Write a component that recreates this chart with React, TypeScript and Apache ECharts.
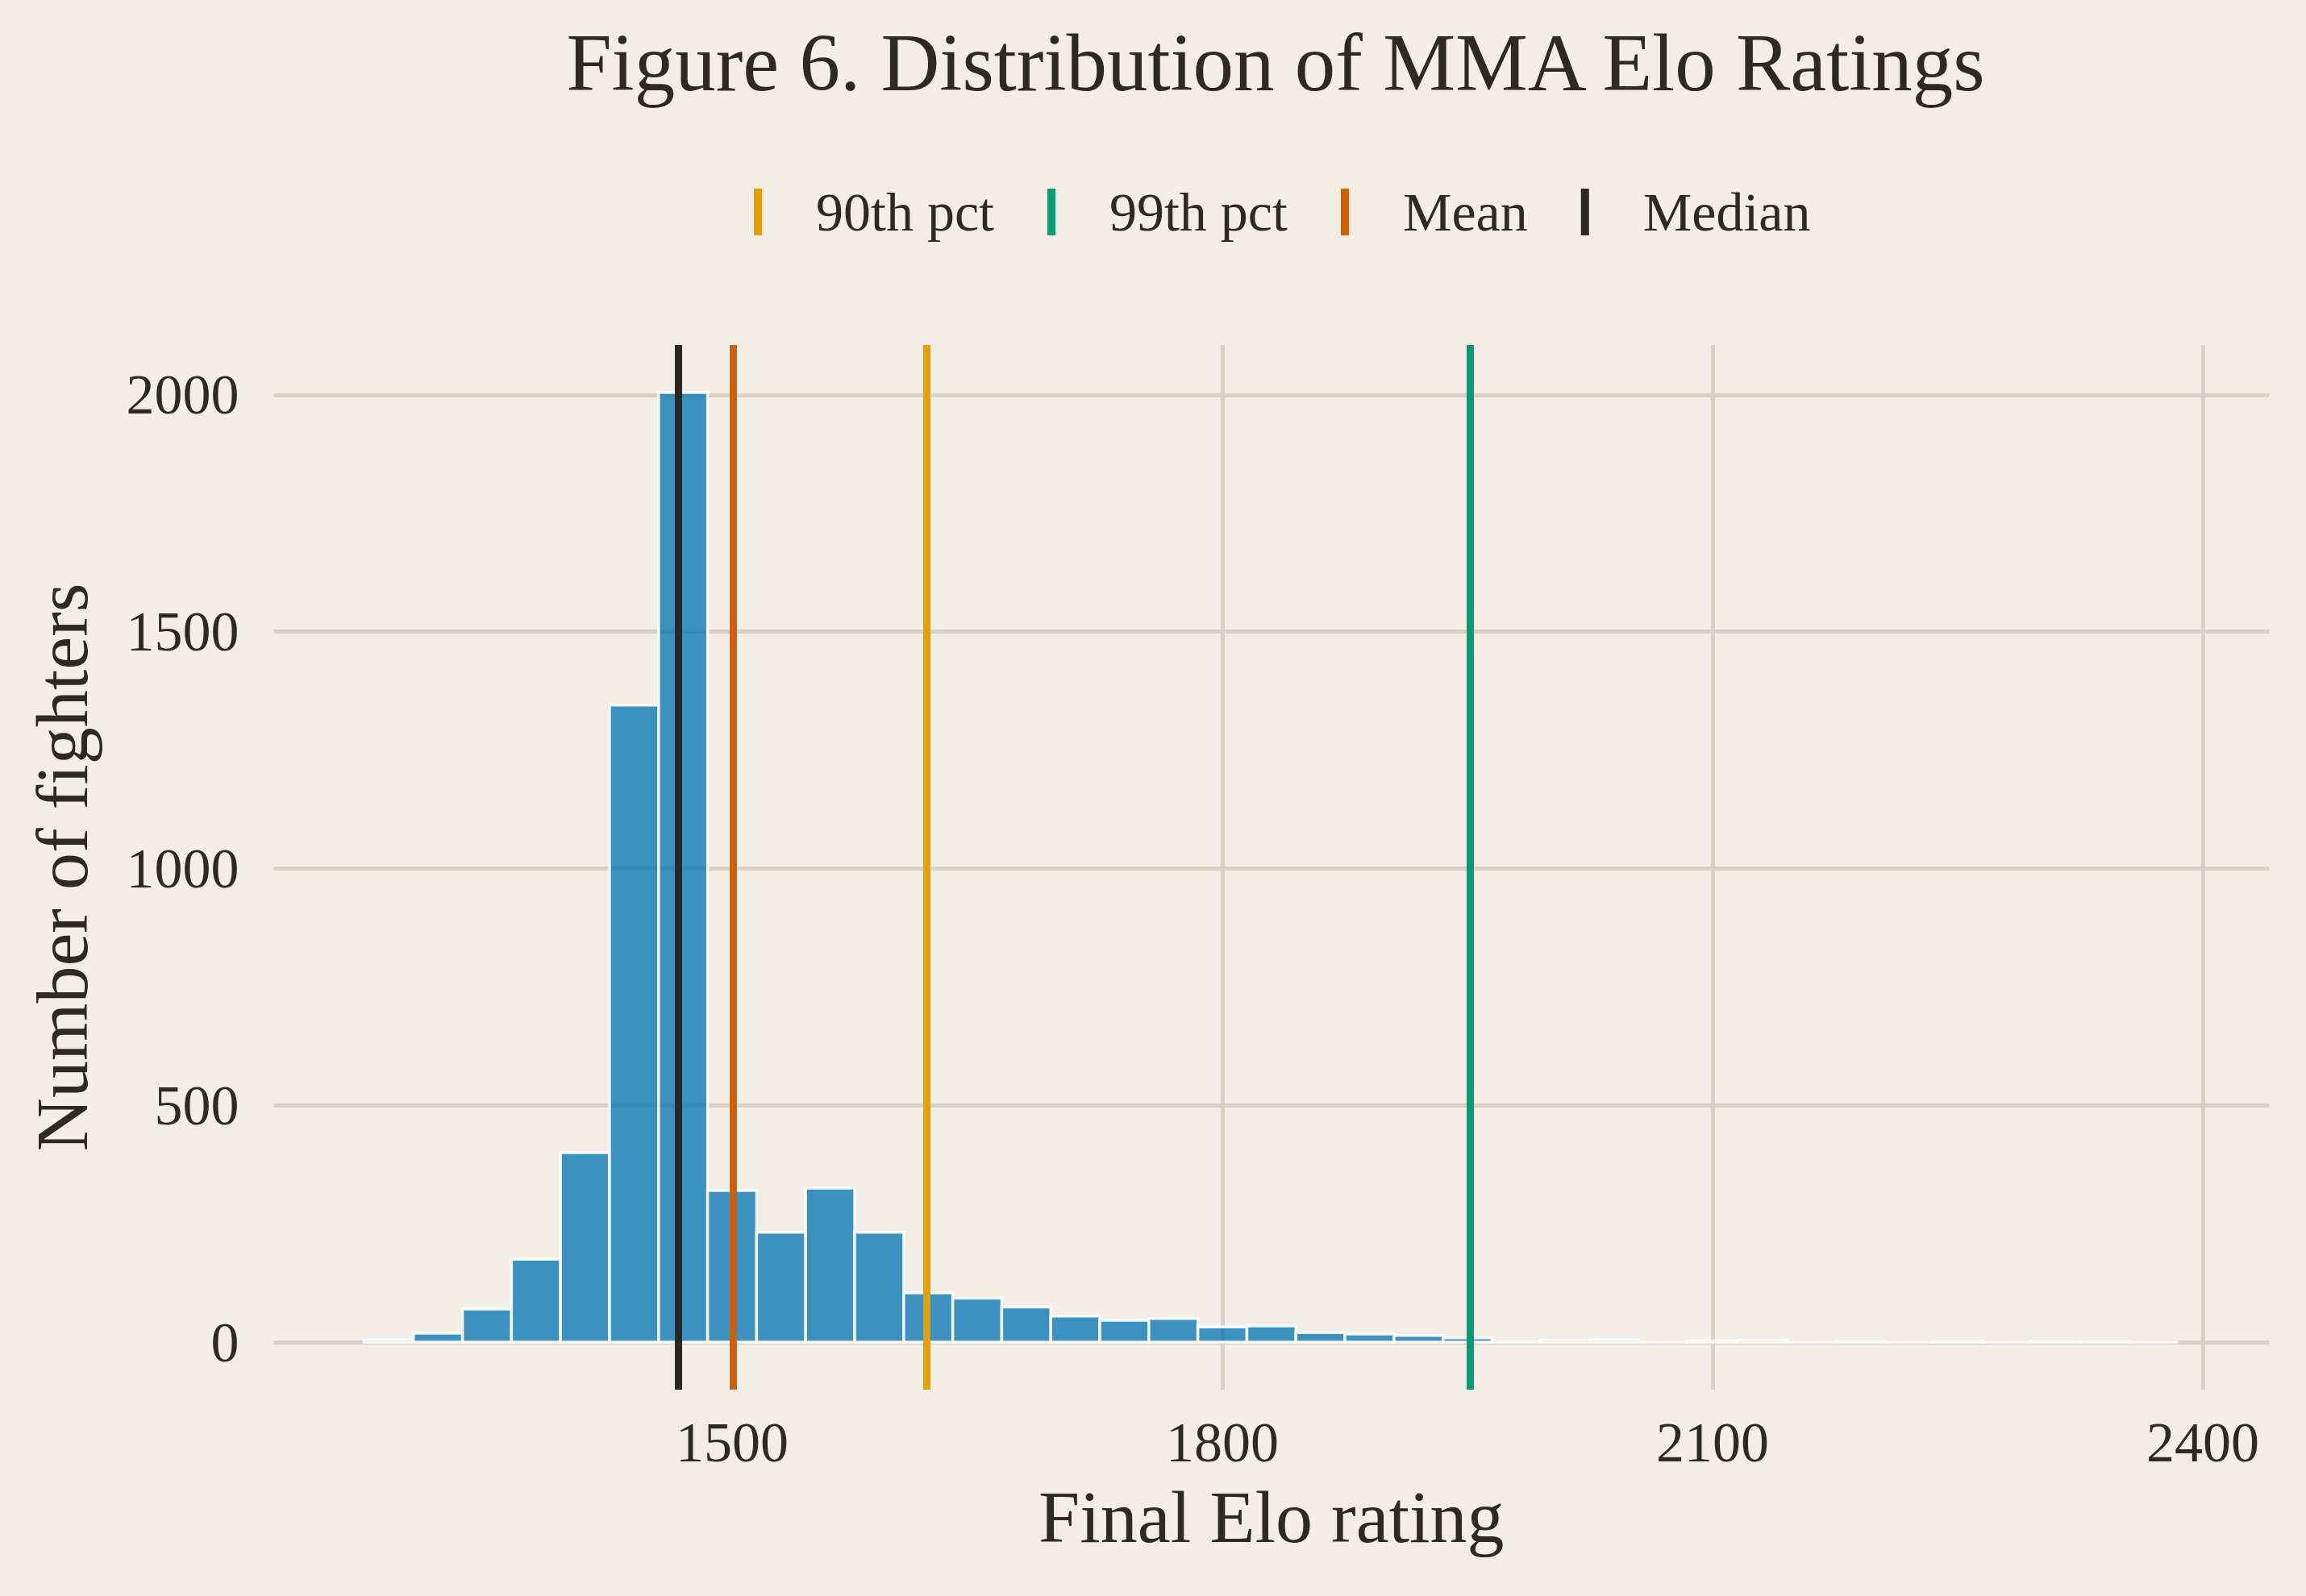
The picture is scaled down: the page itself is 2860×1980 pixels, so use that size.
import React, { useEffect, useRef } from "react";
import * as echarts from "echarts";

// histogram bins (Elo), 30-point width
const BIN_START = 1275;
const BIN_WIDTH = 30;
const COUNTS = [
  5, 19, 70, 175, 400, 1345, 2005, 320, 232, 325, 232, 104, 93, 74, 55, 46, 50,
  32, 34, 20, 17, 14, 9, 1, 4, 5, 0, 2, 4, 0, 1, 0, 1, 0, 1, 1, 0,
];

const STAT_NAMES = ["90th pct", "99th pct", "Mean", "Median"];
const STAT_VALUES = [1619, 1951.5, 1500.5, 1467];
const STAT_COLORS = ["#E69F00", "#009E73", "#D55E00", "#2B2723"];

const X_TICKS = [1500, 1800, 2100, 2400];
const Y_TICKS = [0, 500, 1000, 1500, 2000];

const BG = "#F2EEE6";
const INK = "#2D2925";
const GRID = "#D9D1C4";
const FONT = "Liberation Serif";

const App = () => {
  const chartRef = useRef<HTMLDivElement>(null);

  useEffect(() => {
    const chart = echarts.init(chartRef.current as HTMLDivElement, null, {
      renderer: "svg",
    });

    const bins = COUNTS.map((c, i) => [
      BIN_START + i * BIN_WIDTH,
      BIN_START + (i + 1) * BIN_WIDTH,
      c,
    ]);

    const statSeries = STAT_NAMES.map((name, i) => ({
      name,
      type: "line",
      data: [],
      color: STAT_COLORS[i],
      z: 5,
      markLine: {
        silent: true,
        z: 5,
        symbol: "none",
        label: { show: false },
        lineStyle: { color: STAT_COLORS[i], width: 9, type: "solid", opacity: 1 },
        data: [{ xAxis: STAT_VALUES[i] }],
      },
    }));

    const plain = (v: number) => String(v);

    const option = {
      animation: false,
      backgroundColor: BG,
      textStyle: { fontFamily: FONT, color: INK },
      title: {
        text: "Figure 6. Distribution of MMA Elo Ratings",
        left: 1577,
        top: 22,
        textAlign: "center",
        textStyle: { fontFamily: FONT, fontSize: 101, fontWeight: "normal", color: INK },
      },
      legend: {
        left: 930,
        top: 224,
        icon: "rect",
        itemWidth: 10,
        itemHeight: 58,
        itemGap: 66,
        data: STAT_NAMES,
        textStyle: {
          fontFamily: FONT,
          fontSize: 68,
          color: INK,
          padding: [0, 0, 0, 62],
        },
      },
      grid: {
        left: 339.5,
        right: 45.8,
        top: 428,
        bottom: 256,
        outerBoundsMode: "none",
      },
      xAxis: {
        type: "value",
        min: 1219.5,
        max: 2440.5,
        name: "Final Elo rating",
        nameLocation: "middle",
        nameGap: 112,
        nameTextStyle: { fontFamily: FONT, fontSize: 92, color: INK },
        axisLine: { show: false },
        axisTick: { show: false, customValues: X_TICKS },
        splitLine: { show: false },
        axisLabel: {
          customValues: X_TICKS,
          formatter: plain,
          margin: 30,
          fontFamily: FONT,
          fontSize: 70,
          color: INK,
        },
      },
      yAxis: {
        type: "value",
        min: -100.25,
        max: 2105.25,
        name: "Number of fighters",
        nameLocation: "middle",
        nameGap: 217,
        nameTextStyle: { fontFamily: FONT, fontSize: 92, color: INK },
        axisLine: { show: false },
        axisTick: { show: false, customValues: Y_TICKS },
        splitLine: { show: false },
        axisLabel: {
          customValues: Y_TICKS,
          formatter: plain,
          margin: 43,
          fontFamily: FONT,
          fontSize: 70,
          color: INK,
        },
      },
      series: [
        {
          name: "grid",
          type: "line",
          data: [],
          z: 1,
          markLine: {
            silent: true,
            z: 1,
            symbol: "none",
            label: { show: false },
            lineStyle: { color: GRID, width: 5, type: "solid" },
            data: [
              ...X_TICKS.map((v) => ({ xAxis: v })),
              ...Y_TICKS.map((v) => ({ yAxis: v })),
            ],
          },
        },
        {
          name: "counts",
          type: "custom",
          z: 2,
          data: bins,
          encode: { x: [0, 1], y: 2 },
          renderItem: (params: any, api: any) => {
            const p0 = api.coord([api.value(0), api.value(2)]);
            const p1 = api.coord([api.value(1), 0]);
            return {
              type: "rect",
              shape: {
                x: p0[0],
                y: p0[1],
                width: p1[0] - p0[0],
                height: p1[1] - p0[1],
              },
              style: {
                fill: "rgba(0,114,178,0.75)",
                stroke: "rgba(255,255,255,0.9)",
                lineWidth: 3.5,
              },
            };
          },
        },
        ...statSeries,
      ],
    };

    chart.setOption(option as any);
    return () => {
      chart.dispose();
    };
  }, []);

  return (
    <div
      ref={chartRef}
      style={{ position: "absolute", left: 0, top: 0, width: 2860, height: 1980 }}
    />
  );
};

export default App;
